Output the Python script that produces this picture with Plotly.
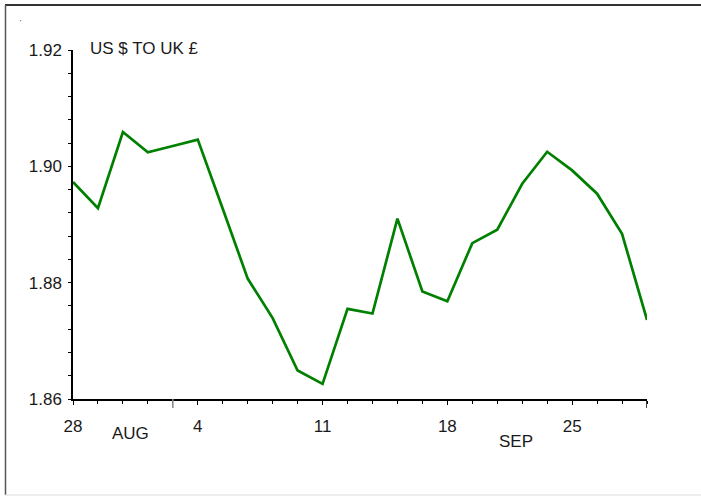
import plotly.graph_objects as go

# Trading-day index (5 per week) and the US $ to UK £ rate
day_index = list(range(24))
rate = [1.8973, 1.8928, 1.9059, 1.9024, 1.9035, 1.9046, 1.8927, 1.8807,
        1.8739, 1.8649, 1.8626, 1.8755, 1.8747, 1.8910, 1.8785, 1.8768,
        1.8868, 1.8891, 1.8970, 1.9025, 1.8993, 1.8953, 1.8884, 1.8736]

x_tick_pos = [0, 5, 10, 15, 20]
x_tick_text = ["28", "4", "11", "18", "25"]
y_tick_vals = [1.86, 1.88, 1.90, 1.92]
y_tick_text = ["1.86", "1.88", "1.90", "1.92"]
month_labels = ["AUG", "SEP"]
month_pos = [2.32, 17.76]
month_line_pos = [4, 23]
title_text = "US $ TO UK £"

W, H = 701, 496
L, R, T, B = 73, 54, 50, 97
pw, ph = W - L - R, H - T - B

def px_x(p):
    return (p - L) / pw

def px_y(p):
    return (H - B - p) / ph

FONT = "Liberation Sans Narrow, Arial Narrow, Liberation Sans, Arial, sans-serif"
FS = 17

fig = go.Figure()
fig.add_trace(go.Scatter(x=day_index, y=rate, mode="lines",
                         line=dict(color="#008000", width=2.7),
                         hoverinfo="skip", showlegend=False))

fig.update_layout(
    width=W, height=H,
    margin=dict(l=L, r=R, t=T, b=B),
    paper_bgcolor="white", plot_bgcolor="white",
    font=dict(family=FONT, size=FS, color="#1a1a1a"),
    showlegend=False,
)

fig.update_xaxes(range=[0, 23], showgrid=False, zeroline=False,
                 showline=True, linecolor="black", linewidth=1.5,
                 tickmode="array", tickvals=x_tick_pos, ticktext=x_tick_text,
                 ticks="outside", ticklen=4, tickwidth=1.2, tickcolor="black",
                 ticklabelstandoff=7,
                 minor=dict(tickmode="array", tickvals=day_index, ticks="outside",
                            ticklen=3, tickwidth=1, tickcolor="black"))

minor_y = [round(1.86 + 0.004 * k, 3) for k in range(16)]
fig.update_yaxes(range=[1.86, 1.92], showgrid=False, zeroline=False,
                 showline=True, linecolor="black", linewidth=1.5,
                 tickmode="array", tickvals=y_tick_vals, ticktext=y_tick_text,
                 ticks="outside", ticklen=3, tickwidth=1.2, tickcolor="black",
                 ticklabelstandoff=3,
                 minor=dict(tickmode="array", tickvals=minor_y, ticks="outside",
                            ticklen=3, tickwidth=1, tickcolor="black"))

shapes = []
# month boundary / end ticks
for i, m in enumerate(month_line_pos):
    shapes.append(dict(type="line", xref="x", yref="paper",
                       x0=m, x1=m, y0=0, y1=px_y(H - B + 9),
                       line=dict(color="#888888" if i == 0 else "black", width=1.5)))
# outer frame
shapes.append(dict(type="line", xref="paper", yref="paper",
                   x0=px_x(5), x1=px_x(705), y0=px_y(5), y1=px_y(5),
                   line=dict(color="#333333", width=2)))
shapes.append(dict(type="line", xref="paper", yref="paper",
                   x0=px_x(5.5), x1=px_x(5.5), y0=px_y(5), y1=px_y(495),
                   line=dict(color="#555555", width=1.5)))
shapes.append(dict(type="line", xref="paper", yref="paper",
                   x0=px_x(5), x1=px_x(705), y0=px_y(495), y1=px_y(495),
                   line=dict(color="#dddddd", width=1)))
# small dot
shapes.append(dict(type="rect", xref="paper", yref="paper",
                   x0=px_x(20), x1=px_x(21.2), y0=px_y(20), y1=px_y(21.2),
                   line=dict(width=0), fillcolor="#888888"))
fig.update_layout(shapes=shapes)

annotations = [dict(text=title_text, xref="paper", yref="paper",
                    x=px_x(88), y=px_y(48), xanchor="left", yanchor="middle",
                    showarrow=False, font=dict(family=FONT, size=FS, color="#1a1a1a"))]
month_y = [433, 441]
for lab, pos, yy in zip(month_labels, month_pos, month_y):
    annotations.append(dict(text=lab, xref="x", yref="paper", x=pos, y=px_y(yy),
                            xanchor="center", yanchor="middle", showarrow=False,
                            font=dict(family=FONT, size=FS, color="#1a1a1a")))
fig.update_layout(annotations=annotations)

fig.write_html("out.html", config={"displayModeBar": False},
               post_script="document.body.style.margin='0';document.body.style.overflow='hidden';")
